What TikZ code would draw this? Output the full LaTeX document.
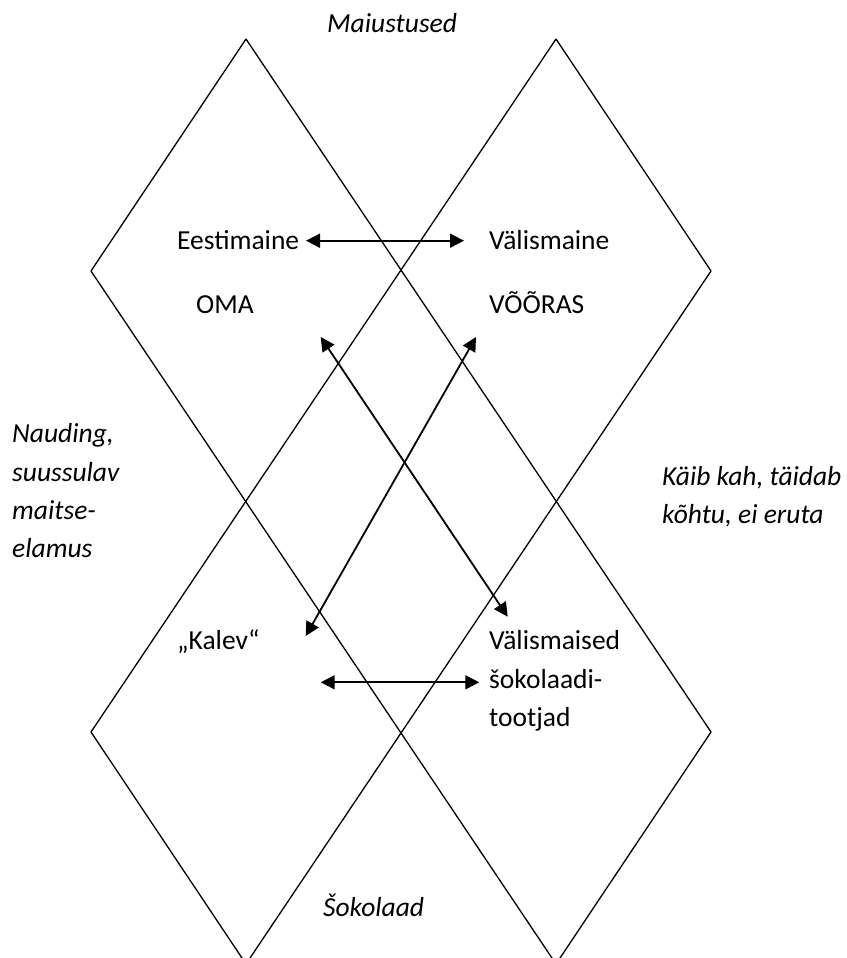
\documentclass[tikz,border=0pt]{standalone}
\usepackage{fontspec}
\setmainfont{Carlito}
\usetikzlibrary{arrows.meta}
\begin{document}
\begin{tikzpicture}[x=1pt,y=-1pt,
  dline/.style={line width=1.3pt, line join=miter},
  arr/.style={line width=1.8pt, {Triangle[length=14pt,width=14pt]}-{Triangle[length=14pt,width=14pt]}},
  lbl/.style={anchor=base west, inner sep=0pt, font=\fontsize{27.5}{33}\selectfont},
  ilbl/.style={anchor=base west, inner sep=0pt, font=\fontsize{27.5}{33}\selectfont\itshape}]
\useasboundingbox (0,0) rectangle (846,958);
\fill[white] (0,0) rectangle (846,958);
\begin{scope}
\clip (0,0) rectangle (846,958);
% diamond vertices
\coordinate (T1) at (246,39);
\coordinate (T2) at (556,39);
\coordinate (L1) at (91,271);
\coordinate (R1) at (711,271);
\coordinate (L2) at (91,732);
\coordinate (R2) at (711,732);
\coordinate (B1) at (246,964);
\coordinate (B2) at (556,964);
\draw[dline] (T1) -- (L1);
\draw[dline] (T1) -- (R2);
\draw[dline] (T2) -- (R1);
\draw[dline] (T2) -- (L2);
\draw[dline] (L1) -- (B2);
\draw[dline] (R1) -- (B1);
\draw[dline] (L2) -- (B1);
\draw[dline] (R2) -- (B2);
\end{scope}
% labels
\node[ilbl] (maius) at (327,33) {Maiustused};
\node[lbl] (eesti) at (177,249) {Eestimaine};
\node[lbl] (valis) at (489,249) {Välismaine};
\node[lbl] (oma) at (196,313) {OMA};
\node[lbl] (vooras) at (489,313) {VÕÕRAS};
\node[ilbl] (naud1) at (12,442) {Nauding,};
\node[ilbl] (naud2) at (12,481) {suussulav};
\node[ilbl] (naud3) at (12,519.5) {maitse-};
\node[ilbl] (naud4) at (12,557) {elamus};
\node[ilbl] (kaib1) at (662,485) {Käib kah, täidab};
\node[ilbl] (kaib2) at (662,523) {kõhtu, ei eruta};
\node[lbl] (kalev) at (177,649) {„Kalev“};
\node[lbl] (vm1) at (489,649) {Välismaised};
\node[lbl] (vm2) at (489,688) {šokolaadi-};
\node[lbl] (vm3) at (489,726) {tootjad};
\node[ilbl] (sok) at (323,916) {Šokolaad};
% arrows
\coordinate (a1l) at (306,240.7);
\coordinate (a1r) at (464,240.7);
\coordinate (aAu) at (320.7,337);
\coordinate (aAd) at (507.7,616.7);
\coordinate (aBu) at (476,337);
\coordinate (aBd) at (305.7,636);
\coordinate (a4l) at (320.7,682.3);
\coordinate (a4r) at (479.3,682.3);
\draw[arr] (a1l) -- (a1r);
\draw[arr] (aAu) -- (aAd);
\draw[arr] (aBu) -- (aBd);
\draw[arr] (a4l) -- (a4r);
\end{tikzpicture}
\end{document}
